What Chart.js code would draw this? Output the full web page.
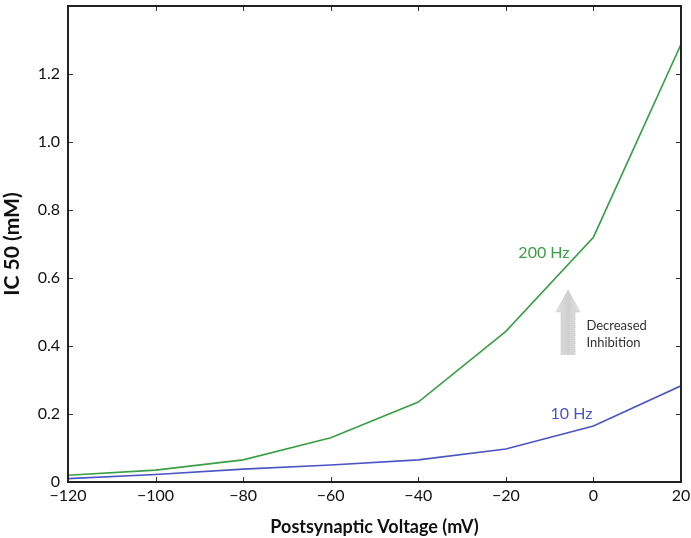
<!DOCTYPE html>
<html>
<head>
<meta charset="utf-8">
<script src="https://cdn.jsdelivr.net/npm/chart.js@4/dist/chart.umd.min.js"></script>
<style>
  html, body { margin: 0; padding: 0; background: #fff; }
  #wrap { width: 691px; height: 538px; position: relative; }
</style>
</head>
<body>
<div id="wrap"><canvas id="grafico"></canvas></div>
<script>
// tensão pós-sináptica (mV) e IC50 (mM) para cada frequência
const voltagens = [-120, -100, -80, -60, -40, -20, 0, 20];
const ic50_200Hz = [0.02, 0.035, 0.065, 0.13, 0.235, 0.443, 0.72, 1.287];
const ic50_10Hz = [0.01, 0.022, 0.038, 0.05, 0.065, 0.097, 0.165, 0.283];

const corVerde = "#3a9f45";
const corAzul = "#4a55c4";
const fonte = "Lato, 'Open Sans', sans-serif";

// ticks para dentro nos quatro lados + moldura
const molduraPlugin = {
  id: "moldura",
  afterDraw(chart) {
    const { ctx, chartArea: a, scales } = chart;
    ctx.save();
    ctx.strokeStyle = "#333";
    ctx.lineWidth = 1;
    const len = 5;
    scales.x.ticks.forEach((t) => {
      const px = Math.round(scales.x.getPixelForValue(t.value)) + 0.5;
      ctx.beginPath();
      ctx.moveTo(px, a.bottom); ctx.lineTo(px, a.bottom - len);
      ctx.moveTo(px, a.top); ctx.lineTo(px, a.top + len);
      ctx.stroke();
    });
    scales.y.ticks.forEach((t) => {
      const py = Math.round(scales.y.getPixelForValue(t.value)) + 0.5;
      ctx.beginPath();
      ctx.moveTo(a.left, py); ctx.lineTo(a.left + len, py);
      ctx.moveTo(a.right, py); ctx.lineTo(a.right - len, py);
      ctx.stroke();
    });
    ctx.strokeStyle = "#222";
    ctx.lineWidth = 2;
    ctx.strokeRect(a.left, a.top, a.right - a.left, a.bottom - a.top);
    ctx.restore();
  },
};

// rótulos das curvas e seta "Decreased Inhibition"
const anotacoesPlugin = {
  id: "anotacoes",
  afterDatasetsDraw(chart) {
    const { ctx, scales } = chart;
    const X = (v) => scales.x.getPixelForValue(v);
    const Y = (v) => scales.y.getPixelForValue(v);
    ctx.save();
    ctx.font = "16px " + fonte;
    ctx.textAlign = "center";
    ctx.textBaseline = "middle";
    ctx.fillStyle = corVerde;
    ctx.fillText("200 Hz", X(-11.3), Y(0.675));
    ctx.fillStyle = corAzul;
    ctx.fillText("10 Hz", X(-5), Y(0.2));

    // seta
    const ax = X(-5.8);
    const y0 = Y(0.375), y1 = Y(0.565);
    const haste = 7, cabeca = 12, altCab = 22;
    const grad = ctx.createLinearGradient(ax - cabeca, 0, ax + cabeca, 0);
    grad.addColorStop(0, "#e2e2e2");
    grad.addColorStop(0.5, "#cfcfcf");
    grad.addColorStop(1, "#e2e2e2");
    ctx.fillStyle = grad;
    ctx.strokeStyle = "#c4c4c4";
    ctx.lineWidth = 1;
    ctx.setLineDash([1, 1]);
    ctx.beginPath();
    ctx.moveTo(ax - haste, y0);
    ctx.lineTo(ax - haste, y1 + altCab);
    ctx.lineTo(ax - cabeca, y1 + altCab);
    ctx.lineTo(ax, y1);
    ctx.lineTo(ax + cabeca, y1 + altCab);
    ctx.lineTo(ax + haste, y1 + altCab);
    ctx.lineTo(ax + haste, y0);
    ctx.closePath();
    ctx.fill();
    ctx.stroke();
    ctx.setLineDash([]);

    ctx.fillStyle = "#333";
    ctx.font = "13px " + fonte;
    ctx.textAlign = "left";
    ctx.fillText("Decreased", X(-1.6), Y(0.458));
    ctx.fillText("Inhibition", X(-1.6), Y(0.41));
    ctx.restore();
  },
};

new Chart(document.getElementById("grafico"), {
  type: "line",
  data: {
    datasets: [
      {
        label: "200 Hz",
        data: voltagens.map((v, i) => ({ x: v, y: ic50_200Hz[i] })),
        borderColor: corVerde,
        borderWidth: 1.6,
        pointRadius: 0,
        tension: 0,
      },
      {
        label: "10 Hz",
        data: voltagens.map((v, i) => ({ x: v, y: ic50_10Hz[i] })),
        borderColor: corAzul,
        borderWidth: 1.6,
        pointRadius: 0,
        tension: 0,
      },
    ],
  },
  options: {
    responsive: true,
    maintainAspectRatio: false,
    animation: false,
    layout: { padding: { top: 6, right: 10, left: 0, bottom: 0 } },
    plugins: { legend: { display: false }, tooltip: { enabled: false } },
    scales: {
      x: {
        type: "linear",
        min: -120,
        max: 20,
        ticks: {
          stepSize: 20,
          color: "#111",
          font: { family: fonte, size: 16 },
          padding: 4,
          maxRotation: 0,
          callback: (v) => String(v).replace("-", "\u2212"),
        },
        grid: { display: false, drawTicks: false },
        border: { display: false },
        title: {
          display: true,
          text: "Postsynaptic Voltage (mV)",
          color: "#111",
          font: { family: fonte, size: 18, weight: "bold" },
          padding: { top: 6, bottom: 0 },
        },
        afterFit: (s) => { s.height = 56; s.paddingLeft = 0; s.paddingRight = 0; },
      },
      y: {
        type: "linear",
        min: 0,
        max: 1.4,
        ticks: {
          stepSize: 0.2,
          color: "#111",
          font: { family: fonte, size: 16 },
          padding: 8,
          callback: (v) => (v === 0 ? "0" : v > 1.3 ? "" : v.toFixed(1)),
        },
        grid: { display: false, drawTicks: false },
        border: { display: false },
        title: {
          display: true,
          text: "IC 50 (mM)",
          color: "#111",
          font: { family: fonte, size: 21, weight: "bold" },
          padding: { top: 0, bottom: 4 },
        },
        afterFit: (s) => { s.width = 68; s.paddingTop = 0; s.paddingBottom = 0; },
      },
    },
  },
  plugins: [molduraPlugin, anotacoesPlugin],
});
</script>
</body>
</html>
